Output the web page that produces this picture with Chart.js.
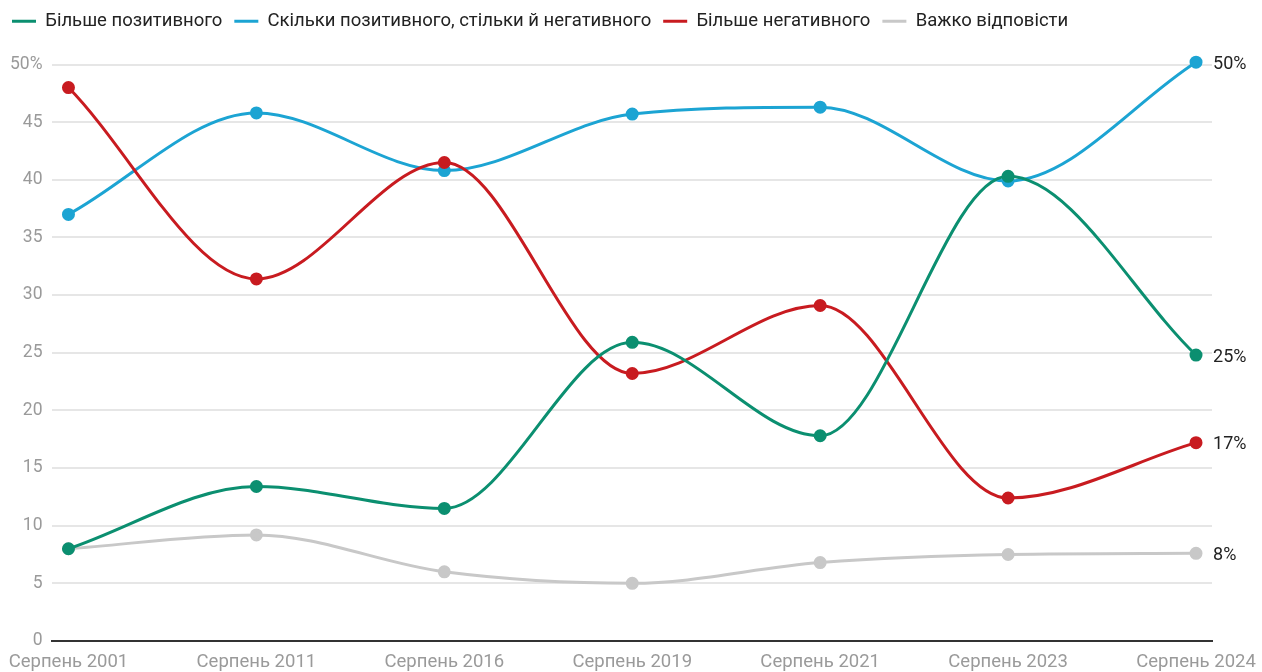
<!DOCTYPE html>
<html>
<head>
<meta charset="utf-8">
<script src="https://cdn.jsdelivr.net/npm/chart.js@4/dist/chart.umd.min.js"></script>
<style>
    html, body { margin: 0; padding: 0; background: #fff; }
    #wrap { width: 1262px; height: 672px; position: relative; }
</style>
</head>
<body>
<div id="wrap"><canvas id="lineChart"></canvas></div>
<script>
// Data
const periods = ["Серпень 2001", "Серпень 2011", "Серпень 2016", "Серпень 2019", "Серпень 2021", "Серпень 2023", "Серпень 2024"];
const morePositive = [8.0, 13.4, 11.5, 25.9, 17.8, 40.3, 24.8];
const equalBoth = [37.0, 45.8, 40.8, 45.7, 46.3, 39.9, 50.2];
const moreNegative = [48.0, 31.4, 41.5, 23.2, 29.1, 12.4, 17.2];
const hardToSay = [8.0, 9.2, 6.0, 5.0, 6.8, 7.5, 7.6];
const seriesNames = ["Більше позитивного", "Скільки позитивного, стільки й негативного", "Більше негативного", "Важко відповісти"];
const endLabels = ["25%", "50%", "17%", "8%"];
const yTicks = [0, 5, 10, 15, 20, 25, 30, 35, 40, 45, 50];

const colors = ['#0b8f70', '#1ca4d3', '#c81b20', '#c8c8c8'];

function toPoints(values) {
    return values.map((v, i) => ({ x: i, y: v }));
}

function makeDataset(label, values, color, order) {
    return {
        label: label,
        data: toPoints(values),
        borderColor: color,
        backgroundColor: color,
        pointBackgroundColor: color,
        pointBorderColor: color,
        borderWidth: 3,
        pointRadius: 5,
        pointHoverRadius: 5,
        cubicInterpolationMode: 'monotone',
        fill: false,
        clip: false,
        order: order // grey line sits under the rest
    };
}

// Plugin that writes the last value to the right of each line
const endLabelPlugin = {
    id: 'endLabels',
    afterDatasetsDraw(chart) {
        const ctx = chart.ctx;
        ctx.save();
        ctx.font = '18px Roboto';
        ctx.fillStyle = '#222';
        ctx.textAlign = 'left';
        ctx.textBaseline = 'middle';
        chart.data.datasets.forEach((ds, i) => {
            const meta = chart.getDatasetMeta(i);
            const last = meta.data[meta.data.length - 1];
            ctx.fillText(endLabels[i], last.x + 17, last.y + 2);
        });
        ctx.restore();
    }
};

// Extra room between the legend and the plot
const legendSpacer = {
    id: 'legendSpacer',
    beforeInit(chart) {
        const origFit = chart.legend.fit;
        chart.legend.fit = function () {
            origFit.call(this);
            this.height += 24;
        };
    }
};

const datasets = [
    makeDataset(seriesNames[0], morePositive, colors[0], 1),
    makeDataset(seriesNames[1], equalBoth, colors[1], 3),
    makeDataset(seriesNames[2], moreNegative, colors[2], 2),
    makeDataset(seriesNames[3], hardToSay, colors[3], 4)
];

new Chart(document.getElementById('lineChart'), {
    type: 'line',
    data: { datasets: datasets },
    plugins: [endLabelPlugin, legendSpacer],
    options: {
        responsive: true,
        maintainAspectRatio: false,
        animation: false,
        layout: { padding: { left: 0, right: 50, top: 0, bottom: 0 } },
        plugins: {
            tooltip: { enabled: false },
            legend: {
                position: 'top',
                align: 'start',
                labels: {
                    usePointStyle: true,
                    pointStyle: 'line',
                    pointStyleWidth: 24,
                    color: '#222',
                    font: { family: 'Roboto', size: 18.5 },
                    padding: 12,
                    sort: (a, b) => a.datasetIndex - b.datasetIndex
                }
            }
        },
        scales: {
            x: {
                type: 'linear',
                min: -0.085,
                max: periods.length - 1 + 0.085,
                afterBuildTicks(axis) {
                    axis.ticks = periods.map((p, i) => ({ value: i }));
                },
                afterFit(axis) {
                    axis.height = 31; // keep baseline where the reference has it
                    axis.paddingLeft = 0;
                    axis.paddingRight = 0;
                },
                ticks: {
                    color: '#9a9a9a',
                    font: { family: 'Roboto', size: 18.5 },
                    maxRotation: 0,
                    autoSkip: false,
                    padding: 10,
                    callback: (value) => periods[value]
                },
                grid: { display: false, drawTicks: false },
                border: { display: true, color: '#333', width: 2 }
            },
            y: {
                min: 0,
                max: 50,
                afterBuildTicks(axis) {
                    axis.ticks = yTicks.map(v => ({ value: v }));
                },
                ticks: {
                    color: '#9a9a9a',
                    font: { family: 'Roboto', size: 17.5 },
                    padding: 10,
                    callback: (value) => value === 50 ? '50%' : value
                },
                grid: { color: '#e6e6e6', lineWidth: 2, drawTicks: false },
                border: { display: false }
            }
        }
    }
});
</script>
</body>
</html>
